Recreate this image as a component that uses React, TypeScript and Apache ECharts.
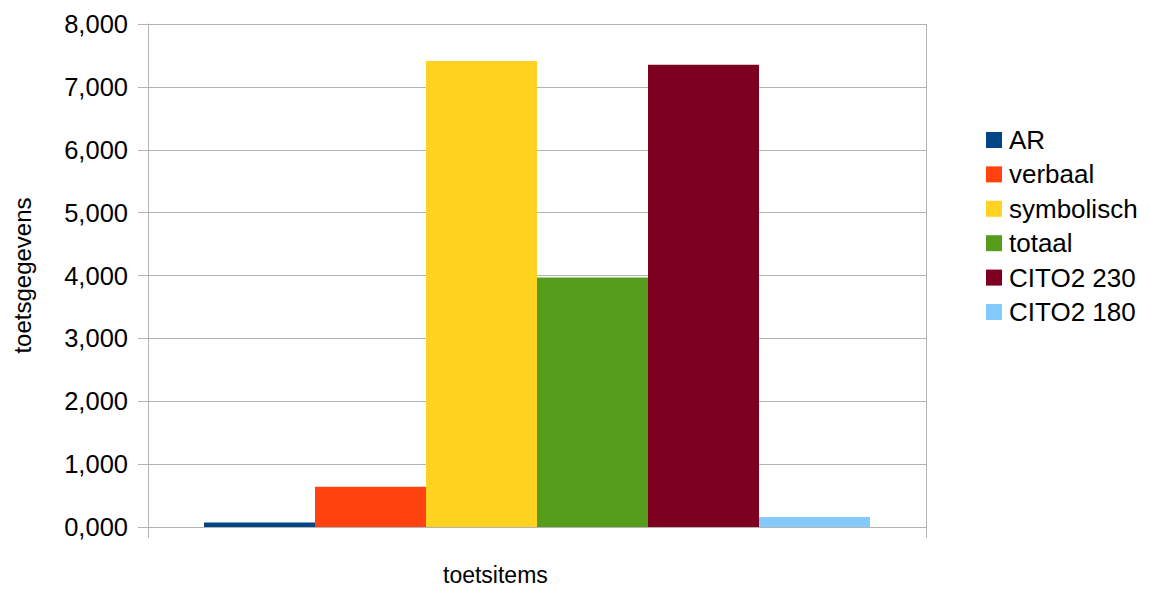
import React, { useEffect, useRef } from "react";
import * as echarts from "echarts";

// One category group; every series is one bar inside it.
const categories: string[] = [""];
const seriesNames: string[] = ["AR", "verbaal", "symbolisch", "totaal", "CITO2 230", "CITO2 180"];
const seriesColors: string[] = ["#004586", "#ff420e", "#ffd320", "#579d1c", "#7e0021", "#83caff"];
const arValues: number[] = [0.07];
const verbaalValues: number[] = [0.64];
const symbolischValues: number[] = [7.41];
const totaalValues: number[] = [3.97];
const cito230Values: number[] = [7.35];
const cito180Values: number[] = [0.16];
const seriesValues: number[][] = [
  arValues,
  verbaalValues,
  symbolischValues,
  totaalValues,
  cito230Values,
  cito180Values,
];

const yMin = 0;
const yMax = 8;
const yInterval = 1;

const FONT = "'Liberation Sans', Arial, sans-serif";
const GRID_GRAY = "#b3b3b3";

export default function App() {
  const ref = useRef<HTMLDivElement>(null);

  useEffect(() => {
    document.body.style.margin = "0";
    if (!ref.current) return;
    const chart = echarts.init(ref.current, undefined, { renderer: "svg" });

    const option: any = {
      animation: false,
      backgroundColor: "#ffffff",
      textStyle: { fontFamily: FONT, color: "#000000" },
      grid: {
        left: 148,
        right: 224,
        top: 24,
        bottom: 63,
        containLabel: false,
        outerBoundsMode: "none",
      },
      legend: {
        orient: "vertical",
        left: 986,
        top: 127,
        padding: 0,
        itemWidth: 16,
        itemHeight: 16,
        itemGap: 8.4,
        icon: "rect",
        textStyle: { fontFamily: FONT, fontSize: 26, color: "#000000", lineHeight: 26, padding: [0, 0, 0, 2] },
        data: seriesNames,
      },
      xAxis: {
        type: "category",
        data: categories,
        boundaryGap: true,
        axisLine: { show: true, lineStyle: { color: GRID_GRAY, width: 1 } },
        axisTick: { show: true, length: 11, lineStyle: { color: GRID_GRAY, width: 1 } },
        axisLabel: { show: false },
        splitLine: { show: true, lineStyle: { color: GRID_GRAY, width: 1 } },
      },
      yAxis: {
        type: "value",
        min: yMin,
        max: yMax,
        interval: yInterval,
        name: "toetsgegevens",
        nameLocation: "middle",
        nameGap: 114,
        nameTextStyle: { fontFamily: FONT, fontSize: 24, color: "#000000" },
        axisLine: { show: true, lineStyle: { color: GRID_GRAY, width: 1 } },
        axisTick: { show: true, length: 10, lineStyle: { color: GRID_GRAY, width: 1 } },
        axisLabel: {
          margin: 20,
          fontFamily: FONT,
          fontSize: 25.5,
          color: "#000000",
          formatter: (v: number) => v.toFixed(3).replace(".", ","),
        },
        splitLine: { show: true, lineStyle: { color: GRID_GRAY, width: 1 } },
      },
      graphic: [
        {
          type: "text",
          left: 443,
          top: 563,
          style: {
            text: "toetsitems",
            fontFamily: FONT,
            fontSize: 23,
            fill: "#000000",
          },
        },
      ],
      series: seriesNames.map((name, i) => ({
        name,
        type: "bar",
        data: seriesValues[i],
        barGap: "0%",
        barWidth: 111,
        itemStyle: { color: seriesColors[i] },
      })),
    };

    chart.setOption(option);
    return () => chart.dispose();
  }, []);

  return <div ref={ref} style={{ width: 1150, height: 590 }} />;
}
